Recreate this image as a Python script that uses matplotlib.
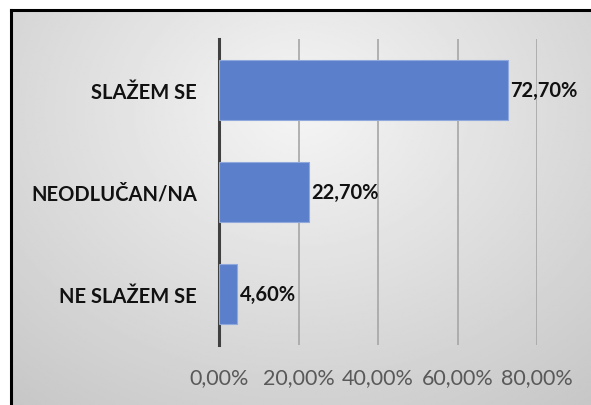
import numpy as np
import matplotlib.pyplot as plt
from matplotlib.lines import Line2D

categories = ['NE SLAŽEM SE', 'NEODLUČAN/NA', 'SLAŽEM SE']
values = [4.6, 22.7, 72.7]
ticks = [0, 20, 40, 60, 80]
tick_labels = ['0,00%', '20,00%', '40,00%', '60,00%', '80,00%']

plt.rcParams['font.family'] = ['Lato', 'DejaVu Sans']

fig = plt.figure(figsize=(5.91, 4.06), dpi=100)
fig.patch.set_facecolor('white')

# gradient background box
bg = fig.add_axes([11 / 591, 0, 1 - 11 / 591, 1 - 11 / 406])
yy, xx = np.mgrid[0:1:200j, 0:1:300j]
r = np.sqrt(((xx - 0.5) / 0.75) ** 2 + ((yy - 0.25) / 0.9) ** 2)
shade = 0.96 - 0.17 * np.clip(r, 0, 1.2)
bg.imshow(shade, cmap='gray', vmin=0, vmax=1, aspect='auto',
          extent=(0, 1, 0, 1), origin='upper', interpolation='bilinear')
bg.set_axis_off()
fig.add_artist(Line2D([11 / 591, 1], [1 - 11 / 406] * 2, color='black', lw=2.2))
fig.add_artist(Line2D([11 / 591] * 2, [0, 1 - 11 / 406], color='black', lw=2.2))

ax = fig.add_axes([219 / 591, 1 - 346 / 406, (537 - 219) / 591 * 1.0, 306 / 406])
ax.patch.set_alpha(0)
ax.barh(categories, values, height=0.59, color='#5b7fca', edgecolor='#8fa9dc',
        linewidth=0.8, zorder=3)
ax.set_xlim(0, 80)
ax.set_ylim(-0.5, 2.5)
ax.set_xticks(ticks)
ax.set_xticklabels(tick_labels, color='#595959', fontsize=15.5)
ax.xaxis.grid(True, color='#a6a6a6', lw=1.2, zorder=0)
ax.tick_params(axis='x', length=0, pad=16)
ax.tick_params(axis='y', length=0, pad=16)
for lbl in ax.get_yticklabels():
    lbl.set_fontweight('bold')
    lbl.set_fontsize(14.5)
    lbl.set_color('#111111')
for s in ['top', 'right', 'bottom']:
    ax.spines[s].set_visible(False)
ax.spines['left'].set_color('#404040')
ax.spines['left'].set_linewidth(2.2)

for i, v in enumerate(values):
    ax.text(v + 0.6, i, f'{v:.2f}%'.replace('.', ','), va='center', ha='left',
            fontsize=14.5, fontweight='bold', color='#111111')

fig.savefig('out.png', dpi=100)
